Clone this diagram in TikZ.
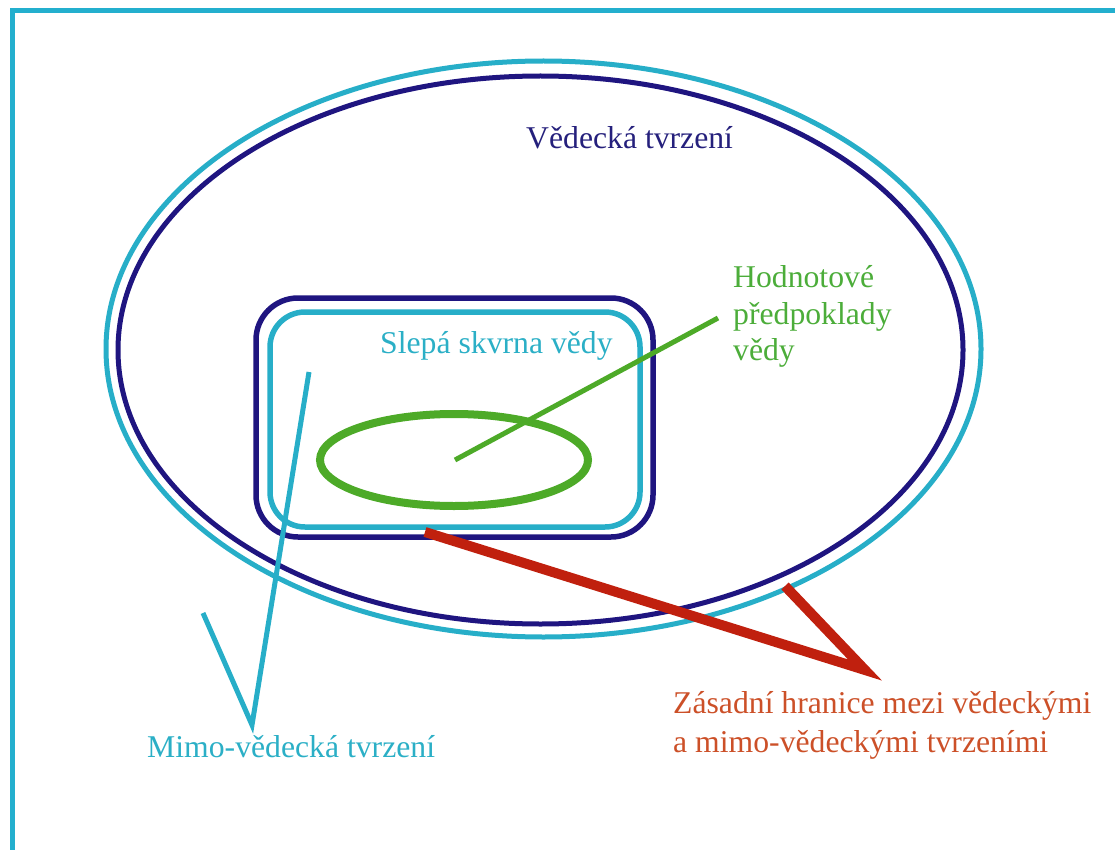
\documentclass[tikz,border=0pt]{standalone}
\usepackage{fontspec}
\setmainfont{Liberation Serif}
\definecolor{frame}{HTML}{23AFCE}
\definecolor{navy}{HTML}{1F1580}
\definecolor{cyanl}{HTML}{27AEC8}
\definecolor{greenl}{HTML}{4DAA28}
\definecolor{redl}{HTML}{C0200E}
\definecolor{redt}{HTML}{CC5028}
\definecolor{navyt}{HTML}{25207C}
\definecolor{cyant}{HTML}{2BAFC6}
\definecolor{greent}{HTML}{4CAD3A}
\tikzset{
  lbl/.style={anchor=base west, inner sep=0pt, font=\fontsize{31.7}{38}\selectfont},
  navyline/.style={draw=navy, line width=5pt},
  cyanline/.style={draw=cyanl, line width=5pt},
}
\begin{document}
\begin{tikzpicture}[x=1pt,y=-1pt]
\useasboundingbox (0,0) rectangle (1115,850);
% frame
\draw[frame, line width=5pt] (12.5,850) -- (12.5,10.5) -- (1115,10.5);
% big ellipses
\draw[cyanline] (543.5,349) ellipse [x radius=437.5, y radius=288];
\draw[navyline] (540.5,350) ellipse [x radius=422.5, y radius=274];
% rounded rectangles
\draw[navyline, line width=5.5pt, rounded corners=42pt] (256,298) rectangle (653,537);
\draw[cyanline, line width=5.5pt, rounded corners=35pt] (270,312) rectangle (640,527);
% green ellipse
\draw[greenl, line width=8pt] (454,460) ellipse [x radius=134, y radius=46];
% labels
\node[lbl, text=navyt] (ved) at (526,149) {Vědecká tvrzení};
\node[lbl, text=cyant] (slepa) at (380,353) {Slepá skvrna vědy};
\node[lbl, text=greent] (hod1) at (733,287) {Hodnotové};
\node[lbl, text=greent] (hod2) at (733,324) {předpoklady};
\node[lbl, text=greent] (hod3) at (733,360) {vědy};
\node[lbl, text=cyant] (mimo) at (147,757) {Mimo-vědecká tvrzení};
\node[lbl, text=redt] (zas1) at (673,713) {Zásadní hranice mezi vědeckými};
\node[lbl, text=redt] (zas2) at (673,752) {a mimo-vědeckými tvrzeními};
% pointer coordinates
\coordinate (gA) at (455,460);
\coordinate (gB) at (718,318);
\coordinate (cA) at (309,372);
\coordinate (cV) at (252,725);
\coordinate (cB) at (203,613);
\coordinate (rA) at (425,532);
\coordinate (rV) at (865,670);
\coordinate (rB) at (785,586);
% pointers
\draw[greenl, line width=5pt] (gA) -- (gB);
\draw[cyanl, line width=5pt] (cA) -- (cV) -- (cB);
\draw[redl, line width=10pt] (rA) -- (rV) -- (rB);
\end{tikzpicture}
\end{document}
